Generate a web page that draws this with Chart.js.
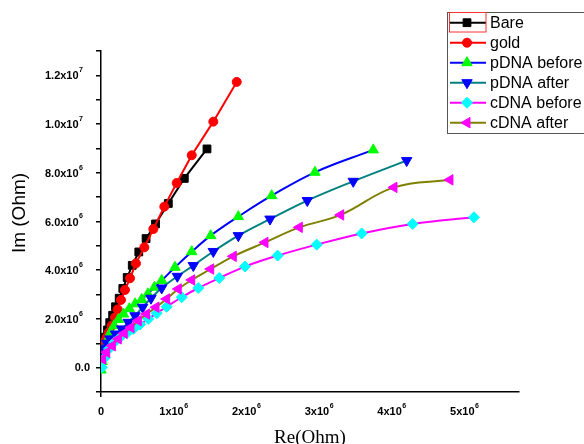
<!DOCTYPE html>
<html>
<head>
<meta charset="utf-8">
<script src="https://cdn.jsdelivr.net/npm/chart.js@4.4.1/dist/chart.umd.min.js"></script>
<style>
  html, body { margin: 0; padding: 0; background: #fff; }
  #wrap { width: 584px; height: 444px; position: relative; }
</style>
</head>
<body>
<div id="wrap"><canvas id="nyquist"></canvas></div>
<script>
// impedance values, in MOhm (Re = x, Im = y)
var MEGA = 1e6;

var bareRe = [0.005, 0.03, 0.06, 0.09, 0.12, 0.16, 0.2, 0.25, 0.3, 0.36, 0.43, 0.52, 0.62, 0.75, 0.926, 1.146, 1.458];
var bareIm = [0.7, 0.95, 1.25, 1.55, 1.85, 2.15, 2.5, 2.85, 3.25, 3.7, 4.2, 4.75, 5.3, 5.9, 6.74, 7.77, 8.98];

var goldRe = [0.01, 0.045, 0.078, 0.11, 0.147, 0.193, 0.229, 0.275, 0.33, 0.399, 0.481, 0.596, 0.72, 0.871, 1.041, 1.248, 1.545, 1.867];
var goldIm = [0.85, 1.05, 1.25, 1.45, 1.72, 2.06, 2.39, 2.78, 3.19, 3.67, 4.28, 4.94, 5.69, 6.61, 7.58, 8.72, 10.1, 11.73];

var pBeforeRe = [0.0, 0.015, 0.035, 0.06, 0.09, 0.13, 0.18, 0.24, 0.31, 0.39, 0.47, 0.56, 0.645, 0.735, 0.835, 1.018, 1.248, 1.509, 1.889, 2.348, 2.943, 3.745];
var pBeforeIm = [-0.1, 0.25, 0.55, 0.85, 1.15, 1.45, 1.72, 1.98, 2.2, 2.42, 2.62, 2.8, 3.03, 3.3, 3.58, 4.12, 4.76, 5.42, 6.2, 7.06, 8.02, 8.94];

var pAfterRe = [0.005, 0.02, 0.045, 0.08, 0.124, 0.2, 0.285, 0.376, 0.468, 0.573, 0.688, 0.835, 1.05, 1.27, 1.545, 1.889, 2.325, 2.838, 3.47, 4.205];
var pAfterIm = [0.3, 0.56, 0.8, 1.0, 1.18, 1.38, 1.59, 1.86, 2.13, 2.48, 2.85, 3.27, 3.75, 4.19, 4.77, 5.42, 6.1, 6.86, 7.65, 8.5];

var cBeforeRe = [0.01, 0.055, 0.11, 0.183, 0.261, 0.353, 0.445, 0.536, 0.65, 0.766, 0.903, 1.11, 1.338, 1.627, 1.98, 2.43, 2.967, 3.586, 4.287, 5.13];
var cBeforeIm = [0.01, 0.42, 0.77, 1.04, 1.24, 1.41, 1.59, 1.77, 2.0, 2.23, 2.5, 2.89, 3.27, 3.68, 4.15, 4.6, 5.05, 5.51, 5.9, 6.17];

var cAfterRe = [0.02, 0.078, 0.156, 0.238, 0.32, 0.413, 0.513, 0.628, 0.757, 0.903, 1.063, 1.248, 1.509, 1.82, 2.256, 2.728, 3.297, 4.03, 4.8];
var cAfterIm = [0.36, 0.63, 0.9, 1.18, 1.41, 1.65, 1.93, 2.2, 2.48, 2.82, 3.23, 3.6, 4.05, 4.57, 5.14, 5.76, 6.27, 7.4, 7.71];

var seriesNames = ['Bare', 'gold', 'pDNA before', 'pDNA after', 'cDNA before', 'cDNA after'];

// axis ticks that carry a label
var xLabelTicks = [0, 1e6, 2e6, 3e6, 4e6, 5e6];
var yLabelTicks = [0, 2e6, 4e6, 6e6, 8e6, 1e7, 1.2e7];

function toPoints(re, im) {
    var pts = [];
    for (var i = 0; i < re.length; i++) {
        pts.push({ x: re[i] * MEGA, y: im[i] * MEGA });
    }
    return pts;
}

function series(idx, re, im, line, marker, style, radius, rot, tension) {
    return {
        label: seriesNames[idx],
        data: toPoints(re, im),
        borderColor: line,
        borderWidth: 2,
        backgroundColor: marker,
        pointBackgroundColor: marker,
        pointBorderColor: marker,
        pointBorderWidth: 1,
        pointStyle: style,
        pointRadius: radius,
        pointRotation: rot,
        tension: tension,
        order: 5 - idx,   // later series on top
        fill: false
    };
}

var datasets = [
    series(0, bareRe, bareIm, '#000000', '#000000', 'rect', 5.5, 0, 0),
    series(1, goldRe, goldIm, '#ff0000', '#ff0000', 'circle', 4.5, 0, 0),
    series(2, pBeforeRe, pBeforeIm, '#0000ff', '#00ff00', 'triangle', 6, 0, 0.4),
    series(3, pAfterRe, pAfterIm, '#008080', '#0000ff', 'triangle', 6, 180, 0.4),
    series(4, cBeforeRe, cBeforeIm, '#ff00ff', '#00ffff', 'rectRot', 5.5, 0, 0.4),
    series(5, cAfterRe, cAfterIm, '#808000', '#ff00ff', 'triangle', 6, -90, 0.4)
];

// mantissa x 10 with a raised exponent
function sciParts(v) {
    var e = Math.floor(Math.log10(v) + 1e-9);
    var m = v / Math.pow(10, e);
    return { e: String(e), m: m };
}

var labelPlugin = {
    id: 'originLabels',
    afterDraw: function (chart) {
        var ctx = chart.ctx;
        var xs = chart.scales.x, ys = chart.scales.y;
        var base = 'bold 11px "Liberation Sans", Arial, sans-serif';
        var sup = 'bold 7px "Liberation Sans", Arial, sans-serif';
        ctx.save();
        ctx.fillStyle = '#000';
        ctx.textBaseline = 'middle';

        // y tick labels
        yLabelTicks.forEach(function (v) {
            var py = ys.getPixelForValue(v);
            if (v === 0) {
                ctx.font = base;
                ctx.textAlign = 'right';
                ctx.fillText('0.0', 90, py);
                return;
            }
            var p = sciParts(v);
            ctx.font = sup;
            var ew = ctx.measureText(p.e).width;
            ctx.textAlign = 'left';
            ctx.fillText(p.e, 83 - ew, py - 5);
            ctx.font = base;
            ctx.textAlign = 'right';
            ctx.fillText(p.m.toFixed(1) + 'x10', 83 - ew - 0.5, py + 1);
        });

        // x tick labels
        xLabelTicks.forEach(function (v) {
            var px = xs.getPixelForValue(v);
            var ty = 412;
            if (v === 0) {
                ctx.font = base;
                ctx.textAlign = 'center';
                ctx.fillText('0', px, ty);
                return;
            }
            var p = sciParts(v);
            var txt = Math.round(p.m) + 'x10';
            ctx.font = base;
            var bw = ctx.measureText(txt).width;
            ctx.font = sup;
            var ew = ctx.measureText(p.e).width;
            var left = px - (bw + ew + 0.5) / 2;
            ctx.textAlign = 'left';
            ctx.font = base;
            ctx.fillText(txt, left, ty);
            ctx.font = sup;
            ctx.fillText(p.e, left + bw + 0.5, ty - 6);
        });

        // axis titles
        ctx.font = '19px "Liberation Sans", Arial, sans-serif';
        ctx.textAlign = 'center';
        ctx.save();
        ctx.translate(20, 213);
        ctx.rotate(-Math.PI / 2);
        ctx.fillText('Im (Ohm)', 0, 0);
        ctx.restore();

        ctx.font = '19px "Liberation Serif", "Times New Roman", serif';
        ctx.fillText('Re(Ohm)', 310, 438);

        // legend box, running past the right edge
        ctx.fillStyle = '#fff';
        ctx.fillRect(447.5, 12.5, 150, 121);
        ctx.strokeStyle = '#555';
        ctx.lineWidth = 1;
        ctx.strokeRect(447.5, 12.5, 150, 121);

        chart.data.datasets.forEach(function (ds, i) {
            var ly = 22.7 + 20 * i;
            ctx.strokeStyle = ds.borderColor;
            ctx.lineWidth = 2;
            ctx.beginPath();
            ctx.moveTo(450, ly);
            ctx.lineTo(486, ly);
            ctx.stroke();
            ctx.fillStyle = ds.pointBackgroundColor;
            ctx.strokeStyle = ds.pointBorderColor;
            ctx.lineWidth = 1;
            Chart.helpers.drawPoint(ctx, {
                pointStyle: ds.pointStyle,
                rotation: ds.pointRotation,
                radius: ds.pointRadius,
                borderWidth: 1
            }, 467, ly);
            ctx.fillStyle = '#000';
            ctx.font = '16px "Liberation Sans", Arial, sans-serif';
            ctx.textAlign = 'left';
            ctx.fillText(ds.label, 490, ly + 1);
        });

        // selection frame on the first legend entry
        ctx.strokeStyle = '#ff3030';
        ctx.lineWidth = 1;
        ctx.strokeRect(449.5, 12.5, 36.5, 19.5);
        ctx.restore();
    }
};

var ctx = document.getElementById('nyquist');
var chart = new Chart(ctx, {
    type: 'scatter',
    data: { datasets: datasets },
    options: {
        responsive: true,
        maintainAspectRatio: false,
        animation: false,
        showLine: true,
        layout: { padding: { left: 0, top: 51, right: 65, bottom: 0 } },
        plugins: {
            legend: { display: false },
            tooltip: { enabled: false }
        },
        scales: {
            x: {
                type: 'linear',
                min: 0,
                max: 5.75e6,
                afterFit: function (s) { s.height = 52; },
                afterBuildTicks: function (s) {
                    s.ticks = s.ticks.filter(function (t) { return Math.abs(t.value / 5e5 - Math.round(t.value / 5e5)) < 1e-6; });
                },
                ticks: { display: false, stepSize: 5e5 },
                grid: { display: true, drawOnChartArea: false, drawTicks: true, tickLength: 5, color: '#000', lineWidth: 1.5 },
                border: { display: true, color: '#000', width: 1.5 }
            },
            y: {
                type: 'linear',
                min: -1e6,
                max: 1.3e7,
                afterFit: function (s) { s.width = 101; },
                ticks: { display: false, stepSize: 1e6 },
                grid: { display: true, drawOnChartArea: false, drawTicks: true, tickLength: 5, color: '#000', lineWidth: 1.5 },
                border: { display: true, color: '#000', width: 1.5 }
            }
        }
    },
    plugins: [labelPlugin]
});
</script>
</body>
</html>
